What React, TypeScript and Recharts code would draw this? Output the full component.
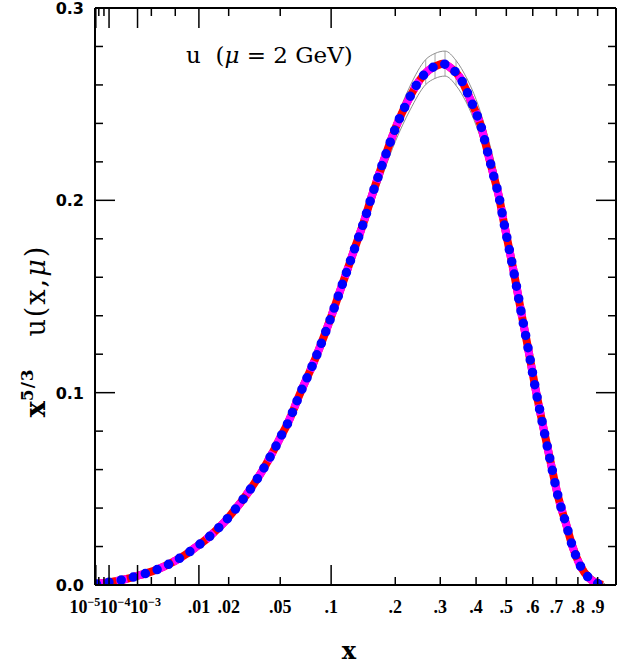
import React from 'react'
import { ComposedChart, Line, XAxis, YAxis, ErrorBar } from 'recharts'

// x axis of the original is linear in x^(1/3)
const cbrt = (v: number) => Math.cbrt(v)

// central curve x^(5/3) u(x, mu)
const centralX = [
  1.2e-5, 3.5e-5, 1.9e-4, 5.4e-4, 1.15e-3, 2.1e-3, 3.4e-3, 5.0e-3, 0.007, 0.0095,
  0.0123, 0.0152, 0.0186, 0.0218, 0.0257, 0.0297, 0.0338, 0.0377, 0.0421, 0.0463,
  0.0506, 0.0554, 0.0596, 0.064, 0.0839, 0.0992, 0.1096, 0.1208, 0.1327, 0.1452,
  0.157, 0.1706, 0.185, 0.2026, 0.2241, 0.2515, 0.2708, 0.2967, 0.3054, 0.327,
  0.3547, 0.369, 0.3838, 0.3989, 0.4144, 0.4336, 0.4544, 0.4746, 0.4921, 0.51,
  0.5282, 0.5533, 0.5816, 0.6096, 0.64, 0.6727, 0.7098, 0.7431, 0.7746, 0.8099,
  0.8566, 0.927,
]
const centralY = [
  0.0005, 0.0009, 0.002, 0.0033, 0.0052, 0.0071, 0.0097, 0.0126, 0.016, 0.0201,
  0.0241, 0.0284, 0.0332, 0.0379, 0.0433, 0.0488, 0.0544, 0.0597, 0.0658, 0.0715,
  0.0774, 0.0833, 0.0892, 0.0957, 0.12, 0.1385, 0.151, 0.1636, 0.1763, 0.1887,
  0.2012, 0.2139, 0.226, 0.239, 0.2511, 0.2627, 0.2675, 0.2705, 0.271, 0.2689,
  0.2632, 0.258, 0.252, 0.2459, 0.239, 0.2269, 0.2139, 0.2017, 0.1879, 0.1749,
  0.1619, 0.1429, 0.123, 0.103, 0.084, 0.0649, 0.045, 0.032, 0.0199, 0.0104,
  0.0035, 0.0,
]

// uncertainty band (thin grey curves)
const bandX = [
  1e-5, 1e-3, 0.005, 0.01, 0.02, 0.03, 0.04, 0.05, 0.07, 0.1, 0.13, 0.16, 0.2, 0.23,
  0.2647, 0.287, 0.3122, 0.3417, 0.372, 0.4, 0.45, 0.5, 0.55, 0.6, 0.65, 0.7, 0.75,
  0.8, 0.85, 0.9, 0.94,
]
const bandLow = [
  0.0004, 0.0046, 0.0121, 0.02, 0.0341, 0.0475, 0.0606, 0.0741, 0.0995, 0.1355, 0.169,
  0.1985, 0.2305, 0.247, 0.2602, 0.2634, 0.2646, 0.2597, 0.2505, 0.239, 0.213, 0.179,
  0.1425, 0.108, 0.078, 0.049, 0.0285, 0.0122, 0.0038, 0.0006, 0,
]
const bandHigh = [
  0.0006, 0.0049, 0.0128, 0.0211, 0.0358, 0.0498, 0.0635, 0.0776, 0.104, 0.1413, 0.1765,
  0.207, 0.241, 0.2595, 0.2732, 0.2764, 0.2776, 0.2727, 0.2635, 0.2525, 0.225, 0.19,
  0.1525, 0.116, 0.085, 0.0545, 0.033, 0.016, 0.007, 0.0028, 0.0005,
]
// where the band shows its vertical hatching
const hatchX = [0.2647, 0.287, 0.3122, 0.3417, 0.372]

const xTicks = [1e-5, 2e-5, 5e-5, 1e-4, 1e-3, 2e-3, 5e-3, 0.01, 0.02, 0.05, 0.1, 0.2, 0.3, 0.4, 0.5, 0.6, 0.7, 0.8, 0.9]
const xTickLabels = ['10^−5', '', '', '10^−4', '10^−3', '', '', '.01', '.02', '.05', '.1', '.2', '.3', '.4', '.5', '.6', '.7', '.8', '.9']
const xMajor = [1e-5, 1e-4, 1e-3, 0.01, 0.1]

const yTicks = [0, 0.02, 0.04, 0.06, 0.08, 0.1, 0.12, 0.14, 0.16, 0.18, 0.2, 0.22, 0.24, 0.26, 0.28, 0.3]
const yTickLabels = ['0.0', '', '', '', '', '0.1', '', '', '', '', '0.2', '', '', '', '', '0.3']

const centralData = centralX.map((x, i) => ({ t: cbrt(x), y: centralY[i] }))
const lowData = bandX.map((x, i) => ({ t: cbrt(x), y: bandLow[i] }))
const highData = bandX.map((x, i) => ({ t: cbrt(x), y: bandHigh[i] }))
const hatchData = hatchX.map(x => {
  const i = bandX.indexOf(x)
  const mid = (bandLow[i] + bandHigh[i]) / 2
  return { t: cbrt(x), y: mid, err: [mid - bandLow[i], bandHigh[i] - mid] }
})
const xTickT = xTicks.map(cbrt)

// the crowded power labels sit side by side, as in the original
const labelNudge: Record<string, number> = { '10^−5': -11, '10^−4': 6, '10^−3': 8 }

function BottomTick(props: any) {
  const { x, y, index } = props
  const len = xMajor.includes(xTicks[index]) ? 20 : 8
  const label = xTickLabels[index] || ''
  const [base, exp] = label.split('^')
  return (
    <g>
      <line x1={x} y1={y} x2={x} y2={y - len} stroke="#000" strokeWidth={1.5} />
      {label && (
        <text x={x + (labelNudge[label] ?? 0)} y={y + 28} textAnchor="middle"
          fontFamily="Liberation Serif" fontSize={18} fontWeight="bold" fill="#000">
          {base}
          {exp && <tspan dy={-7} fontSize={12}>{exp}</tspan>}
        </text>
      )}
    </g>
  )
}

function TopTick(props: any) {
  const { x, y, index } = props
  const len = xMajor.includes(xTicks[index]) ? 20 : 8
  return <line x1={x} y1={y} x2={x} y2={y + len} stroke="#000" strokeWidth={1.5} />
}

function LeftTick(props: any) {
  const { x, y, index } = props
  const label = yTickLabels[index]
  const len = label ? 20 : 8
  return (
    <g>
      <line x1={x} y1={y} x2={x + len} y2={y} stroke="#000" strokeWidth={1.5} />
      {label && (
        <text x={x - 11} y={y + 6} textAnchor="end" fontFamily="DejaVu Sans"
          fontSize={16} fontWeight="bold" fill="#000">{label}</text>
      )}
    </g>
  )
}

function RightTick(props: any) {
  const { x, y, index } = props
  const len = yTickLabels[index] ? 20 : 8
  return <line x1={x} y1={y} x2={x - len} y2={y} stroke="#000" strokeWidth={1.5} />
}

const axisLine = { stroke: '#000', strokeWidth: 2 }

export default function App() {
  return (
    <div style={{ position: 'absolute', left: 0, top: 0, width: 620, height: 667, background: '#fff' }}>
      <ComposedChart width={620} height={667} margin={{ top: 7, right: 3, bottom: 81, left: 94 }}>
        <XAxis dataKey="t" type="number" domain={[0.02, 1]} ticks={xTickT} interval={0}
          allowDataOverflow height={1} tickSize={0} tickMargin={0} axisLine={axisLine} tick={<BottomTick />} />
        <XAxis xAxisId="top" orientation="top" dataKey="t" type="number" domain={[0.02, 1]} ticks={xTickT}
          interval={0} allowDataOverflow height={1} tickSize={0} tickMargin={0} axisLine={axisLine} tick={<TopTick />} />
        <YAxis type="number" domain={[0, 0.3]} ticks={yTicks} interval={0} allowDataOverflow
          width={1} tickSize={0} tickMargin={0} axisLine={axisLine} tick={<LeftTick />} />
        <YAxis yAxisId="right" orientation="right" type="number" domain={[0, 0.3]} ticks={yTicks}
          interval={0} allowDataOverflow width={1} tickSize={0} tickMargin={0} axisLine={axisLine} tick={<RightTick />} />

        <Line data={lowData} dataKey="y" type="monotone" stroke="#808080" strokeWidth={0.9} dot={false} isAnimationActive={false} />
        <Line data={highData} dataKey="y" type="monotone" stroke="#808080" strokeWidth={0.9} dot={false} isAnimationActive={false} />
        <Line data={hatchData} dataKey="y" stroke="none" dot={false} isAnimationActive={false}>
          <ErrorBar dataKey="err" direction="y" width={0} stroke="#909090" strokeWidth={0.8} isAnimationActive={false} />
        </Line>

        <Line data={centralData} dataKey="y" type="monotone" stroke="#ff0000" strokeWidth={8} dot={false} isAnimationActive={false} />
        <Line data={centralData} dataKey="y" type="monotone" stroke="#ff00ff" strokeWidth={8} strokeDasharray="11 9"
          dot={false} isAnimationActive={false} />
        <Line data={centralData} dataKey="y" type="monotone" stroke="#0000ff" strokeWidth={9.5} strokeDasharray="0 12.5"
          strokeLinecap="round" dot={false} isAnimationActive={false} />
      </ComposedChart>

      <svg width={620} height={667} style={{ position: 'absolute', left: 0, top: 0, pointerEvents: 'none' }}>
        <text x={186} y={63} fontFamily="DejaVu Serif" fontSize={23} fill="#000" style={{ whiteSpace: 'pre' }}>
          {'u  ('}<tspan fontStyle="italic">μ</tspan>{' = 2 GeV)'}
        </text>
        <text x={349} y={659} textAnchor="middle" fontFamily="DejaVu Serif" fontSize={24} fontWeight="bold" fill="#000">x</text>
        <g transform="translate(45, 332) rotate(-90)">
          <text x={0} y={0} textAnchor="middle" fontFamily="DejaVu Serif" fontSize={27} fill="#000" style={{ whiteSpace: 'pre' }}>
            <tspan fontWeight="bold">x</tspan>
            <tspan dy={-12} fontSize={17} fontWeight="bold" letterSpacing={1}>5/3</tspan>
            <tspan dy={12} letterSpacing={2}>{'   u(x,'}</tspan>
            <tspan fontStyle="italic" letterSpacing={2}>μ</tspan>
            <tspan>)</tspan>
          </text>
        </g>
      </svg>
    </div>
  )
}
